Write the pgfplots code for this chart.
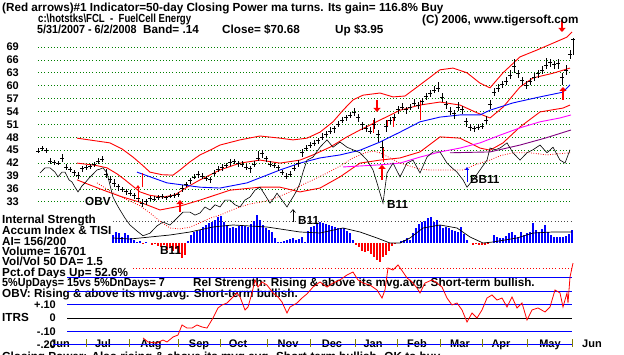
\documentclass[border=0pt]{standalone}
\usepackage{fontspec}
\setmainfont{Liberation Sans}
\usepackage{pgfplots}
\pgfplotsset{compat=1.18}
\usepackage{pgfplotstable}
\usetikzlibrary{arrows.meta}
\definecolor{tred}{RGB}{255,0,0}
\definecolor{tblue}{RGB}{0,0,255}
\definecolor{tgreen}{RGB}{0,128,0}
\definecolor{tmag}{RGB}{255,0,255}
\definecolor{tpurp}{RGB}{128,0,128}
\definecolor{tolive}{RGB}{128,128,0}
\newcommand{\tf}{\fontsize{11.7pt}{12pt}\selectfont\bfseries}
\newcommand{\tk}{\fontsize{11pt}{12pt}\selectfont\bfseries}

\pgfplotstableread{
x c u d
38 44.8 0.6 0.5
42 45.5 0.4 0.8
46 45.0 0.5 0.7
50 42.3 0.9 0.5
54 42.2 0.5 0.6
58 42.0 0.6 0.4
62 43.0 1.2 0.8
66 41.0 0.8 0.6
70 40.5 0.7 0.6
74 39.8 0.6 0.7
78 39.2 0.8 0.9
82 40.8 0.5 0.8
86 41.0 0.6 0.5
90 41.3 0.5 0.7
94 41.6 0.7 0.5
98 42.3 0.8 0.6
102 42.8 0.9 0.5
106 39.5 1.2 1.0
110 38.2 0.8 0.9
114 37.2 1.0 0.8
118 36.5 0.6 0.9
122 35.8 0.7 0.6
126 35.4 0.5 0.8
130 35.0 0.8 0.7
134 34.5 0.6 0.9
138 33.8 0.9 0.8
142 32.6 1.0 0.9
146 33.1 0.6 0.8
150 33.8 0.5 0.6
154 33.6 0.7 0.5
158 34.0 0.5 0.6
162 34.2 0.6 0.5
166 34.0 0.4 0.6
170 34.3 0.5 0.5
174 34.4 0.6 0.4
178 34.7 0.5 0.6
182 36.2 0.8 1.0
186 37.0 0.7 0.6
190 38.0 0.6 0.8
194 38.8 0.7 0.6
198 39.3 0.8 0.7
202 39.0 0.6 0.7
206 38.4 0.7 0.6
210 38.2 0.6 0.9
214 39.6 0.8 0.7
218 40.5 0.9 0.6
222 41.0 0.7 0.8
226 41.5 0.6 0.7
230 42.2 0.7 0.8
234 42.4 0.6 0.5
238 42.0 0.5 0.8
242 41.8 0.6 0.7
246 41.0 0.8 0.6
250 40.8 0.5 1.0
254 41.6 0.9 0.6
258 43.2 1.5 0.8
262 44.3 0.8 1.0
266 43.0 0.6 0.8
270 41.7 0.7 0.6
274 41.5 0.5 0.7
278 41.0 0.6 0.8
282 39.8 0.7 0.6
286 39.0 0.8 0.7
290 39.5 0.6 0.8
294 40.8 0.7 0.6
298 41.9 0.8 0.7
302 44.4 0.9 1.0
306 45.5 0.7 0.8
310 46.2 0.6 0.7
314 46.6 0.8 0.6
318 47.3 0.6 0.8
322 48.0 0.9 0.7
326 48.8 0.6 0.8
330 49.5 0.8 0.7
334 50.0 0.7 0.9
338 51.1 0.6 0.8
342 52.0 0.8 0.7
346 52.6 0.6 0.9
350 53.0 0.9 0.6
354 53.7 1.2 0.8
358 52.6 0.8 1.0
362 51.0 0.6 1.2
366 50.0 0.9 0.8
370 49.5 1.0 0.7
374 51.0 1.4 1.0
378 48.6 1.2 1.8
382 45.6 1.5 2.5
386 50.5 1.6 1.2
390 52.0 0.8 1.0
394 52.6 0.9 0.8
398 54.5 0.8 1.0
402 55.0 0.9 0.7
406 54.4 0.6 0.9
410 55.0 0.8 0.6
414 56.0 0.9 0.8
418 55.4 0.7 0.8
422 56.3 0.8 0.7
426 57.5 0.9 0.8
430 58.2 0.8 0.9
434 59.0 1.0 0.7
438 59.4 1.4 0.8
442 57.4 0.8 1.2
446 55.6 0.9 1.0
450 54.0 1.0 0.9
454 53.6 0.8 1.4
458 55.0 1.2 0.8
462 54.4 0.9 1.0
466 51.6 1.0 1.1
470 50.3 0.8 0.9
474 50.0 0.7 0.8
478 50.4 0.6 0.7
482 50.6 0.8 0.6
486 52.0 0.9 0.8
490 55.7 1.0 1.2
494 58.4 1.0 0.9
498 59.5 0.8 0.9
502 60.3 0.9 0.8
506 61.0 1.0 0.9
510 62.4 1.2 0.8
514 64.4 1.8 1.4
518 62.8 0.9 1.0
522 61.2 0.8 1.0
526 60.0 1.0 0.8
530 61.0 0.9 0.9
534 62.0 1.0 0.8
538 62.8 0.8 0.9
542 63.6 1.0 0.8
546 64.8 1.6 1.0
550 65.4 0.9 1.0
554 65.0 0.8 1.2
558 65.2 1.0 1.4
562 62.0 1.0 1.8
566 63.5 1.2 1.0
570 67.4 1.0 1.2
573 70.68 0.4 3.6
}\pricetab

\pgfplotstableread{
x v
77 47.8
95 47.2
110 46.7
122 45.3
133 43.4
142 41.6
150 39.9
162 39.3
173 39.2
180 40.4
190 42.3
200 43.9
210 45.0
220 46.2
240 47.4
260 48.3
280 47.8
293 47.4
307 47.8
320 49.2
333 51.6
343 54.3
353 56.7
363 57.8
380 58.3
393 57.4
405 57.6
420 60.2
440 63.7
453 64.1
467 63.0
480 60.6
490 59.5
503 63.0
520 66.7
537 68.3
553 69.9
567 71.3
572 72.5
}\uppertab

\pgfplotstableread{
x v
77 42.0
95 41.5
107 40.9
117 39.5
125 38.1
140 35.3
150 34.5
163 34.1
175 34.6
187 36.4
200 38.1
220 40.4
240 42.0
260 42.7
280 42.0
300 42.7
313 43.9
330 45.7
347 48.1
360 49.7
380 52.0
400 54.3
420 55.5
440 56.2
460 55.5
477 53.7
490 52.5
503 55.0
520 59.7
533 61.8
553 62.9
570 64.1
}\midtab

\pgfplotstableread{
x v
77 38.1
100 36.0
120 34.3
140 32.9
160 31.1
180 32.0
200 33.4
230 35.7
260 36.4
280 36.4
300 35.3
320 36.2
340 38.8
360 42.0
380 42.7
400 43.2
420 44.6
440 48.1
460 47.8
480 45.5
490 45.0
503 46.7
520 50.4
540 53.9
563 54.8
570 55.5
}\lowtab

\pgfplotstableread{
x v
137 39.9
167 37.4
200 36.4
220 36.2
247 37.4
280 40.4
300 42.0
320 43.2
340 43.9
360 45.0
380 46.9
400 49.2
420 51.6
440 52.7
460 53.2
480 53.2
490 54.3
513 56.0
540 57.4
563 58.5
570 60.2
}\matab

\pgfplotstableread{
x v
343 41.1
380 41.6
400 42.0
420 43.4
440 44.6
460 45.5
480 46.7
500 48.5
520 50.2
540 51.6
560 52.5
571 53.2
}\magtab

\pgfplotstableread{
x v
450 44.4
490 44.6
520 46.2
545 47.8
571 49.7
}\purtab

\pgfplotstableread{
x v
40 39.7
45 40.9
50 40.9
55 39.9
58 38.8
62 39.9
65 39.9
69 38.1
72 37.6
75 36.4
78 35.3
82 36.7
85 37.4
89 38.5
92 39.2
97 40.4
100 40.6
103 40.9
107 39.7
110 36.9
113 34.1
117 32.3
120 31.1
125 29.2
130 27.6
137 26.2
143 25.1
150 25.7
157 27.4
163 28.3
170 27.6
177 29.2
183 30.6
190 30.6
195 29.9
200 30.4
205 31.8
210 31.1
215 32.3
220 31.8
225 33.4
230 33.4
235 32.3
240 31.8
245 33.4
250 34.1
255 35.7
260 36.4
265 34.6
270 32.7
274 33.9
277 35.0
282 33.4
287 31.8
290 33.0
293 34.1
297 35.7
300 37.4
303 39.9
307 42.7
313 43.4
320 45.7
327 47.4
333 45.7
340 46.9
347 45.7
353 45.1
360 44.4
367 42.7
373 40.4
377 37.4
380 35.0
383 32.7
387 39.7
393 42.0
400 38.8
407 42.0
413 42.7
420 39.7
427 43.4
433 44.6
440 44.6
447 42.0
452 40.9
457 39.9
463 38.1
467 36.4
473 38.1
480 40.4
487 42.7
490 45.5
495 45.1
500 45.5
507 46.7
513 44.4
520 42.7
527 44.4
533 45.1
540 46.2
547 44.4
553 45.7
560 42.7
565 42.0
570 45.1
}\obvtab

\pgfplotstableread{
x v
97 37.4
110 35.5
125 33.7
140 32.1
150 30.4
160 28.5
170 26.9
180 26.7
190 27.1
200 28.1
210 29.2
220 29.9
230 30.9
240 31.8
250 32.5
260 32.9
270 33.4
280 34.3
290 35.3
300 36.7
313 38.1
327 39.7
340 41.3
353 43.2
365 44.4
373 44.8
380 44.4
390 43.2
400 42.0
410 41.3
420 40.6
430 40.4
450 40.4
463 40.4
475 41.6
490 42.7
500 43.7
513 44.4
530 44.4
547 43.9
560 44.2
570 44.4
}\obvmatab

\pgfplotstableread{
x h
113 8
116 11
119 10
122 6
125 10
128 8
131 5
134 3
137 1
140 2
146 1
188 2
191 8
194 11
197 12
200 13
203 16
206 18
209 20
212 21
215 23
218 26
221 27
224 21
227 18
230 15
233 16
236 15
239 17
242 18
245 17
248 16
251 19
254 22
257 28
260 23
263 18
266 15
269 13
272 11
275 5
278 1
281 1
284 2
287 3
290 4
293 5
296 3
299 4
302 6
305 1
308 12
311 16
314 17
317 19
320 21
323 20
326 19
329 18
332 17
335 16
338 15
341 15
344 15
347 12
350 10
353 3
401 2
404 3
407 5
410 3
413 10
416 15
419 19
422 21
425 22
428 25
431 26
434 21
437 23
440 18
443 15
446 16
449 15
452 13
455 12
458 11
461 16
464 9
467 3
494 8
497 6
500 5
503 5
506 7
509 10
512 11
515 8
518 6
521 11
524 8
527 10
530 11
533 20
536 13
539 11
542 14
545 18
548 11
551 8
554 6
557 6
560 6
563 6
566 7
569 9
572 13
}\aipos

\pgfplotstableread{
x h
143 -1
152 -2
155 -1
158 -3
161 -4
164 -2
167 -7
170 -5
173 -8
176 -6
179 -10
182 -15
185 -12
356 -2
359 -4
362 -8
365 -9
368 -8
371 -11
374 -14
377 -17
380 -19
383 -14
386 -12
389 -8
392 -3
395 -1
473 -2
476 -1
479 -2
482 -2
485 -2
488 -1
}\aineg

\pgfplotstableread{
x h
113 5
130 4
150 6
170 8
190 11
213 16
233 18
267 16
300 11
320 10
343 15
360 11
377 5
390 0
400 0
410 5
423 15
440 18
457 15
470 6
483 0
493 1
517 5
533 10
553 11
572 11
}\tisitab

\pgfplotstableread{
x r
143 -0.149
148 -0.179
157 -0.187
163 -0.164
167 -0.179
173 -0.142
178 -0.127
182 -0.052
187 -0.075
192 -0.075
197 -0.052
202 -0.067
207 -0.075
213 0.000
218 0.075
222 0.097
227 0.112
233 0.157
237 0.187
240 0.157
245 0.060
248 0.082
252 0.187
255 0.284
258 0.231
262 0.269
267 0.246
273 0.187
278 0.157
282 0.119
287 0.037
290 0.082
297 0.112
302 0.149
307 0.180
313 0.231
320 0.269
327 0.231
333 0.261
340 0.284
347 0.321
353 0.343
358 0.284
363 0.261
370 0.246
377 0.209
382 0.149
385 0.209
388 0.373
393 0.358
398 0.396
403 0.343
407 0.299
412 0.269
417 0.224
420 0.187
425 0.261
432 0.284
437 0.261
442 0.231
447 0.149
452 0.097
457 0.112
462 0.060
467 -0.030
472 0.037
477 0.000
482 0.060
487 0.149
492 0.172
497 0.134
502 0.149
507 0.082
512 0.157
517 0.075
522 0.112
527 -0.015
532 0.060
538 0.075
545 0.045
550 0.082
555 0.209
560 0.187
563 0.082
567 0.187
568 0.112
570 0.306
573 0.410
}\itrstab

\pgfplotstableread{
x y dv
180 30.6 2.8
382 38.1 3.5
563 56.7 3.0
377 56.7 -2.8
562 75.3 -2.8
}\bigarrows

\pgfplotstableread{
x y dv
142 36.4 3.3
373 49.0 3.0
383 42.3 3.4
387 50.4 1.6
393 50.4 2.3
420 52.0 4.7
}\sigbars

\begin{document}
\begin{tikzpicture}[x=1pt,y=1pt]
\fill[white] (0,0) rectangle (624pt,354pt);

% ---------------- price panel ----------------
\begin{axis}[at={(38pt,139.3pt)}, anchor=south west, scale only axis,
  width=534pt, height=193.5pt, xmin=38, xmax=572, ymin=30, ymax=75,
  clip=false, axis line style={draw=none}, major tick length=0,
  xtick=\empty, ytick={33,36,...,69},
  yticklabels={33,36,39,42,45,48,51,54,57,60,63,66,69},
  yticklabel style={font=\tk, inner sep=0pt, anchor=east, xshift=-19pt},
  ymajorgrids, grid style={draw=tgreen, line width=0.8pt, dash pattern=on 0.8pt off 2.4pt}]
\addplot[tred, line width=0.9pt, no marks] table[x=x,y=v] {\uppertab};
\addplot[tred, line width=0.9pt, no marks] table[x=x,y=v] {\midtab};
\addplot[tred, line width=0.9pt, no marks] table[x=x,y=v] {\lowtab};
\addplot[tblue, line width=0.9pt, no marks] table[x=x,y=v] {\matab};
\addplot[tmag, line width=0.9pt, no marks] table[x=x,y=v] {\magtab};
\addplot[tpurp, line width=0.9pt, no marks] table[x=x,y=v] {\purtab};
\addplot[tred, line width=0.8pt, no marks, dash pattern=on 0.8pt off 1.6pt] table[x=x,y=v] {\obvmatab};
\addplot[black, line width=0.6pt, no marks] table[x=x,y=v] {\obvtab};
\addplot[black, only marks, mark=-, mark size=1.6pt, mark options={line width=0.7pt},
  error bars/.cd, y dir=both, y explicit, error mark=none,
  error bar style={line width=0.9pt, black}]
  table[x=x, y=c, y error plus=u, y error minus=d] {\pricetab};
\addplot[tred, line width=1pt, quiver={u=0, v=\thisrow{dv}}] table[x=x,y=y] {\sigbars};
\addplot[tred, line width=2.4pt, -{Triangle[length=4pt,width=7pt]}, quiver={u=0, v=\thisrow{dv}}] table[x=x,y=y] {\bigarrows};
\addplot[tred, line width=0.8pt, -{Triangle[length=3pt,width=4pt]}, quiver={u=0, v=3.5}] coordinates {(138,33.4)};
\addplot[tblue, line width=0.8pt, -{Triangle[length=3pt,width=4pt]}, quiver={u=0, v=3.5}] coordinates {(467,37.6)};
\addplot[black, line width=0.6pt, -{Straight Barb[length=3pt,width=5pt]}, quiver={u=0, v=3.0}] coordinates {(293,28.3)};
\end{axis}

% ---------------- accumulation panel ----------------
\begin{axis}[at={(38pt,86pt)}, anchor=south west, scale only axis,
  width=534pt, height=55pt, xmin=38, xmax=572, ymin=-25, ymax=30,
  clip=false, axis line style={draw=none}, major tick length=0,
  xtick=\empty, ytick=\empty]
\draw[black!70, line width=0.8pt, dash pattern=on 0.8pt off 2.4pt] (axis cs:113,22) -- (axis cs:572,22);
\addplot[tblue, ycomb, line width=1.1pt] table[x=x,y=h] {\aipos};
\addplot[tred, ycomb, line width=1.1pt] table[x=x,y=h] {\aineg};
\addplot[black, line width=0.7pt, no marks] table[x=x,y=h] {\tisitab};
\end{axis}

% ---------------- ITRS tick labels ----------------
\begin{axis}[at={(0pt,2.5pt)}, anchor=south west, scale only axis,
  width=624pt, height=93.8pt, xmin=0, xmax=624, ymin=-0.25, ymax=0.45,
  axis line style={draw=none}, major tick length=0, xtick=\empty,
  ytick={-0.2,-0.1,0,0.1,0.2,0.3},
  yticklabels={-.20,-.10,0,+.10,+.20,+.30},
  yticklabel style={font=\tk, inner sep=0pt, anchor=east, xshift=56pt}]
\end{axis}

% ---------------- texts ----------------
\begin{scope}[every node/.style={font=\tf, inner sep=0pt, anchor=base west}]
\node at (2,342) {(Red arrows)\#1 Indicator=50-day Closing Power ma turns. Its gain= 116.8\% Buy};
\node at (38,331) {\scalebox{0.82}[1]{c:\textbackslash hotstks\textbackslash FCL\ \ -\ \ FuelCell Energy}};
\node at (422,330) {(C) 2006, www.tigersoft.com};
\node at (37,320) {\scalebox{0.92}[1]{5/31/2007 - 6/2/2008}};
\node at (143,320) {Band= .14};
\node at (222,320) {Close= \$70.68};
\node at (335,320) {Up \$3.95};
\node at (85,149) {OBV};
\node at (2,131) {Internal Strength};
\node at (2,120) {Accum Index \& TISI};
\node at (2,109) {AI= 156/200};
\node at (2,99) {Volume= 16701};
\node at (2,88.5) {Vol/Vol 50 DA= 1.5};
\node[fill=white] at (2,78) {Pct.of Days Up= 52.6\%};
\node[fill=white] at (2,67.5) {\scalebox{0.92}[1]{5\%UpDays= 15vs 5\%DnDays= 7}};
\node[fill=white] at (193,67.5) {Rel Strength: Rising \& above its mvg.avg. Short-term bullish.};
\node[fill=white] at (2,57) {OBV: Rising \& above its mvg.avg. Short-term bullish.};
\node at (2,33) {ITRS};
\node at (2,-6) {Closing Power: Also rising \& above its mvg.avg. Short-term bullish. OK to buy.};
\node at (298,130) {B11};
\node at (160,100) {B11};
\node at (387,146) {B11};
\node at (470,171) {BB11};
\end{scope}

% ---------------- ITRS panel ----------------
\begin{axis}[at={(0pt,2.5pt)}, anchor=south west, scale only axis,
  width=624pt, height=93.8pt, xmin=0, xmax=624, ymin=-0.25, ymax=0.45,
  clip=false, axis line style={draw=none}, major tick length=0, ytick=\empty,
  xtick={60,103,151,199,238,288,332,373,417,460,501,550,592},
  xticklabels={Jun,Jul,Aug,Sep,Oct,Nov,Dec,Jan,Feb,Mar,Apr,May,Jun},
  xticklabel style={font=\tk, inner sep=0pt, anchor=base, yshift=4.5pt}]
\draw[tred, line width=0.8pt, dash pattern=on 0.8pt off 2.4pt] (axis cs:133,0.373) -- (axis cs:572,0.373);
\draw[tblue, line width=0.8pt] (axis cs:67,0.3) -- (axis cs:572,0.3);
\draw[tblue, line width=0.8pt] (axis cs:67,0.2) -- (axis cs:572,0.2);
\draw[tblue, line width=0.8pt] (axis cs:67,0.1) -- (axis cs:572,0.1);
\draw[black, line width=0.8pt] (axis cs:67,0) -- (axis cs:572,0);
\draw[tblue, line width=0.8pt] (axis cs:67,-0.1) -- (axis cs:572,-0.1);
\draw[tblue, line width=0.8pt] (axis cs:53,-0.2) -- (axis cs:572,-0.2);
\pgfplotsinvokeforeach{86,129,178,220,267,310,355,397,440,482,527,572}{
  \draw[tolive, line width=0.8pt] (axis cs:#1,-0.157) -- (axis cs:#1,-0.216);
}
\addplot[tred, line width=0.8pt, no marks] table[x=x,y=r] {\itrstab};
\end{axis}

\pgfresetboundingbox
\path[use as bounding box] (0,0) rectangle (624pt,354pt);
\end{tikzpicture}
\end{document}
